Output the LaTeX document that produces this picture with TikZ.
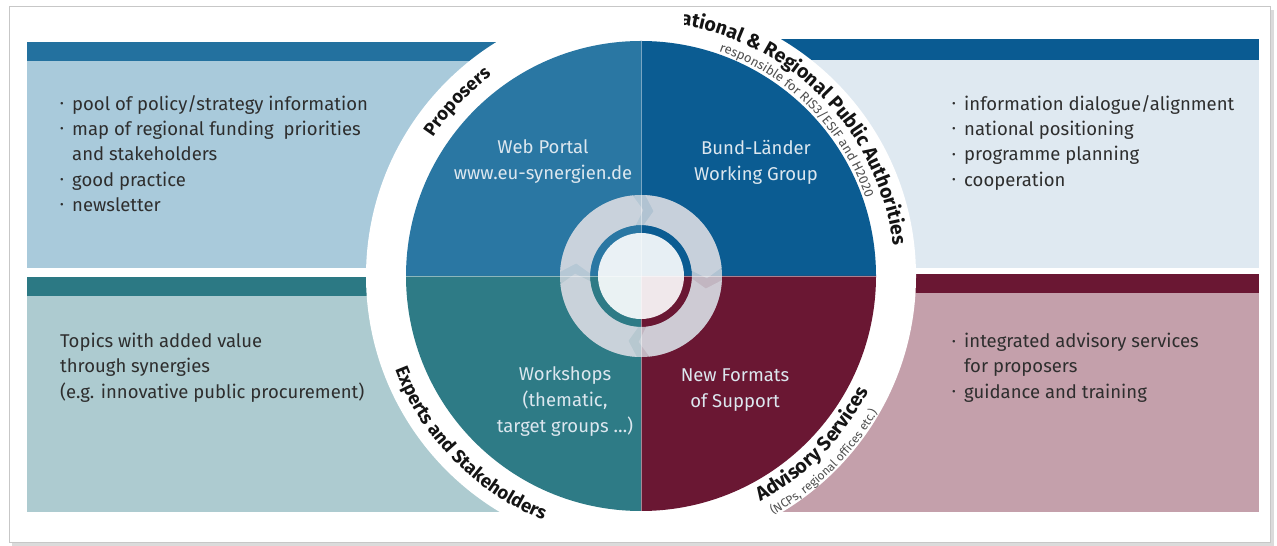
\documentclass[tikz,border=0pt]{standalone}
\usepackage{fontspec}
\setmainfont{Fira Sans}
\usetikzlibrary{decorations.text}
\definecolor{tlbar}{HTML}{23719F}
\definecolor{tlpan}{HTML}{A9CADB}
\definecolor{trbar}{HTML}{0A5B92}
\definecolor{trpan}{HTML}{DFE9F1}
\definecolor{blbar}{HTML}{2C7984}
\definecolor{blpan}{HTML}{ADCBD0}
\definecolor{brbar}{HTML}{6A1733}
\definecolor{brpan}{HTML}{C4A0AB}
\definecolor{qtl}{HTML}{2A77A3}
\definecolor{qtr}{HTML}{0B5C92}
\definecolor{qbl}{HTML}{2E7B86}
\definecolor{qbr}{HTML}{6A1733}
\definecolor{txt}{HTML}{2E2E2E}
\definecolor{qtxt}{HTML}{DCE7EF}
\definecolor{subtxt}{HTML}{505050}
\definecolor{ringgray}{HTML}{D6DAE1}
\newcommand\bul{\makebox[12pt][l]{\raisebox{0.25ex}{\scalebox{0.6}{•}}}}
\newcommand\nobul{\makebox[12pt][l]{}}
\begin{document}
\begin{tikzpicture}[x=1pt,y=1pt,
  paneltext/.style={anchor=north west, inner sep=0pt, align=left, text=txt,
    font=\fontsize{18.5}{25.3}\selectfont},
  quadtext/.style={align=center, text=qtxt, inner sep=0pt,
    font=\fontsize{18.5}{26}\selectfont},
  ringtitle/.style 2 args={decorate, decoration={text along path, text align=center,
    text color=black!92, text={|\fontsize{#1}{#1}\bfseries\selectfont|#2}}},
  ringsub/.style 2 args={decorate, decoration={text along path, text align=center,
    text color=subtxt, text={|\fontsize{#1}{#1}\selectfont|#2}}}
]
\useasboundingbox (0,0) rectangle (1277,546);
\fill[white] (0,0) rectangle (1277,546);
% frame with shadow
\draw[black!14, line width=3] (12,1.5) -- (1272,1.5) -- (1272,536);
\fill[white] (9,3) rectangle (1270,539);
\coordinate (C) at (641,270);
\begin{scope}
  \clip (9,3) rectangle (1270,539);
  \fill[tlbar] (27,485) rectangle (641,504);
  \fill[tlpan] (27,278) rectangle (641,485);
  \fill[blbar] (27,250) rectangle (641,269);
  \fill[blpan] (27,34) rectangle (641,250);
  \fill[trbar] (641,486) rectangle (1259,507);
  \fill[trpan] (641,278) rectangle (1259,486);
  \fill[brbar] (641,253) rectangle (1259,272);
  \fill[brpan] (641,34) rectangle (1259,253);
  \fill[white] (C) circle[radius=275];
\end{scope}
\draw[black!22, line width=1] (9,3) rectangle (1270,539);
% quadrants
\begin{scope}[shift={(C)}]
  \fill[qtl] (0,0) -- (180:235) arc[start angle=180, end angle=90, radius=235] -- cycle;
  \fill[qtr] (0,0) -- (90:235) arc[start angle=90, end angle=0, radius=235] -- cycle;
  \fill[qbr] (0,0) -- (0:235) arc[start angle=0, end angle=-90, radius=235] -- cycle;
  \fill[qbl] (0,0) -- (-90:235) arc[start angle=-90, end angle=-180, radius=235] -- cycle;
  % centre ring with circulating arrow segments
  \fill[ringgray, opacity=0.82, even odd rule] (0,0) circle[radius=81] (0,0) circle[radius=51];
  \foreach \a in {90,0,-90,-180}{
    \fill[ringgray, opacity=0.6] (\a-3:81) arc[start angle=\a-3, end angle=\a-84, radius=81]
      -- (\a-92:66) -- (\a-84:51) arc[start angle=\a-84, end angle=\a-3, radius=51]
      -- (\a-11:66) -- cycle;
  }
  \fill[white, opacity=0.9] (0,0) circle[radius=43];
  \draw[white, opacity=0.45, line width=0.8] (0,-235) -- (0,235);
  \draw[white, opacity=0.45, line width=0.8] (-235,0) -- (235,0);
\end{scope}
% quadrant texts
\node[quadtext] (web) at (543,384) {Web Portal\\www.eu-synergien.de};
\node[quadtext] (bund) at (756,384) {Bund-Länder\\Working Group};
\node[quadtext] (work) at (565,144) {Workshops\\(thematic,\\target groups …)};
\node[quadtext] (newf) at (735,156) {New Formats\\of Support};
% panel texts
\node[paneltext] (tltext) at (60,451) {\bul pool of policy/strategy information\\
  \bul map of regional funding\ \ priorities\\ \nobul and stakeholders\\
  \bul good practice\\ \bul newsletter};
\node[paneltext] (trtext) at (952,451) {\bul information dialogue/alignment\\
  \bul national positioning\\ \bul programme planning\\ \bul cooperation};
\node[paneltext] (bltext) at (60,213) {Topics with added value\\ through synergies\\
  (e.g. innovative public procurement)};
\node[paneltext] (brtext) at (952,213) {\bul integrated advisory services\\
  \nobul for proposers\\ \bul guidance and training};
% ring labels
\path[ringtitle={18.3}{Proposers}] (C) ++(165:250) arc[start angle=165, end angle=108, radius=250];
\begin{scope}
  \clip (0,0) -- (1277,0) -- (1277,539) -- (684,539) -- (684,520) -- (0,520) -- cycle;
  \path[ringtitle={19.5}{National {\&} Regional Public Authorities}] (C) ++(110:254) arc[start angle=110, end angle=-19, radius=254];
\end{scope}
\path[ringsub={13}{responsible for RIS3/ESIF and H2020}] (C) ++(100:238) arc[start angle=100, end angle=-10, radius=238];
\path[ringtitle={18.5}{Experts and Stakeholders}] (C) ++(180:263) arc[start angle=180, end angle=269, radius=263];
\path[ringtitle={19.5}{Advisory Services}] (C) ++(-92:255) arc[start angle=-92, end angle=3, radius=255];
\path[ringsub={12}{(NCPs, regional offices etc.)}] (C) ++(-95:273) arc[start angle=-95, end angle=4, radius=273];
\end{tikzpicture}
\end{document}
